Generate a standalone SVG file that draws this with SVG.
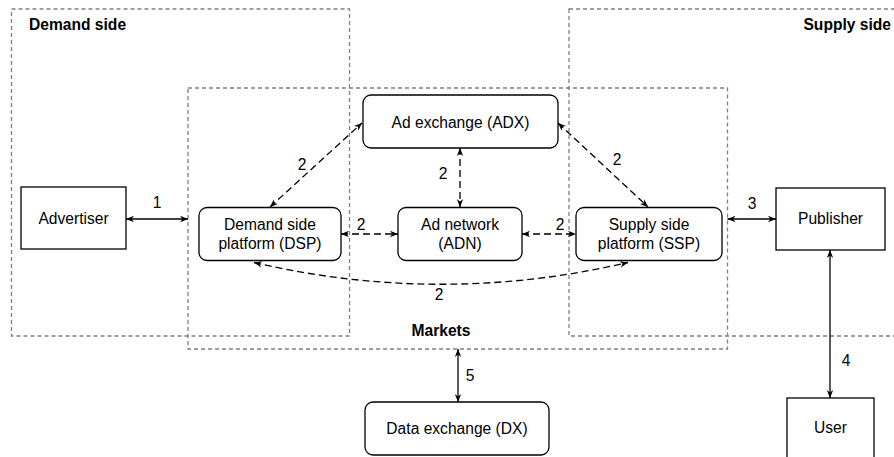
<svg xmlns="http://www.w3.org/2000/svg" width="894" height="457" viewBox="0 0 894 457">
<style>
text{font-family:"Liberation Sans",Arial,sans-serif;font-size:15.6px;fill:#000;}
.b{font-weight:bold;}
.m{text-anchor:middle;}
.grp{fill:none;stroke:#808080;stroke-width:1.3;stroke-dasharray:4 3;}
.box{fill:#fff;stroke:#000;stroke-width:1.3;}
.s{fill:none;stroke:#000;stroke-width:1.3;marker-start:url(#ar);marker-end:url(#ar);}
.d{fill:none;stroke:#000;stroke-width:1.3;stroke-dasharray:7 4;marker-start:url(#ar);marker-end:url(#ar);}
</style>
<defs>
<marker id="ar" viewBox="0 0 10 10" refX="10" refY="5" markerWidth="8" markerHeight="8" orient="auto-start-reverse" markerUnits="userSpaceOnUse">
<path d="M0,1 L10,5 L0,9 L3,5 z" fill="#000"/>
</marker>
</defs>
<rect width="894" height="457" fill="#fff"/>
<g id="groups">
<rect class="grp" x="11.5" y="9" width="338" height="327"/>
<rect class="grp" x="569" y="9" width="340" height="327"/>
<rect class="grp" x="188" y="88" width="539.5" height="261"/>
<text class="b" x="29" y="30">Demand side</text>
<text class="b" x="891" y="30" text-anchor="end">Supply side</text>
<text class="b m" x="441" y="336">Markets</text>
</g>
<g id="connectors">
<line class="s" x1="126" y1="219" x2="188" y2="219"/>
<line class="s" x1="727.5" y1="219" x2="776" y2="219"/>
<line class="s" x1="830" y1="250" x2="830" y2="398"/>
<line class="s" x1="458" y1="349" x2="458" y2="402"/>
<line class="d" x1="460" y1="148" x2="460" y2="207"/>
<line class="d" x1="341" y1="234" x2="398" y2="234"/>
<line class="d" x1="522" y1="234" x2="576" y2="234"/>
<line class="d" x1="270" y1="207" x2="362" y2="123"/>
<line class="d" x1="558" y1="123" x2="648" y2="207"/>
<path class="d" d="M254,262.5 Q441,306 628,262.5"/>
<text class="m" x="157" y="207.5">1</text>
<text class="m" x="752" y="208.5">3</text>
<text class="m" x="846" y="366">4</text>
<text class="m" x="470" y="381">5</text>
<text class="m" x="443" y="178.5">2</text>
<text class="m" x="361" y="230">2</text>
<text class="m" x="560" y="230">2</text>
<text class="m" x="302" y="169.5">2</text>
<text class="m" x="617" y="165">2</text>
<text class="m" x="439" y="300">2</text>
</g>
<g id="advertiser">
<rect class="box" x="21" y="187" width="105" height="62"/>
<text class="m" x="73.5" y="224">Advertiser</text>
</g>
<g id="dsp">
<rect class="box" x="199" y="207.5" width="142" height="53" rx="8"/>
<text class="m" x="270" y="230">Demand side</text>
<text class="m" x="270" y="249">platform (DSP)</text>
</g>
<g id="adx">
<rect class="box" x="363" y="95" width="195" height="53" rx="8"/>
<text class="m" x="460.5" y="127.5">Ad exchange (ADX)</text>
</g>
<g id="adn">
<rect class="box" x="398" y="207.5" width="124" height="53" rx="8"/>
<text class="m" x="460" y="230">Ad network</text>
<text class="m" x="460" y="249">(ADN)</text>
</g>
<g id="ssp">
<rect class="box" x="576" y="207.5" width="146" height="53" rx="8"/>
<text class="m" x="649" y="230">Supply side</text>
<text class="m" x="649" y="249">platform (SSP)</text>
</g>
<g id="publisher">
<rect class="box" x="776" y="188" width="109" height="62"/>
<text class="m" x="830.5" y="224">Publisher</text>
</g>
<g id="user">
<rect class="box" x="787" y="398" width="87" height="62"/>
<text class="m" x="830.5" y="433">User</text>
</g>
<g id="dx">
<rect class="box" x="365" y="402" width="184" height="53" rx="8"/>
<text class="m" x="457" y="433.5">Data exchange (DX)</text>
</g>
</svg>
